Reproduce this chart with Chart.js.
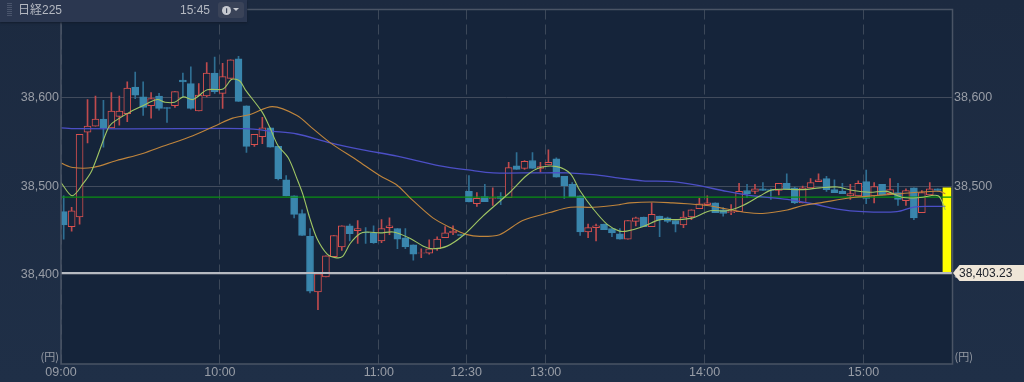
<!DOCTYPE html>
<html lang="ja">
<head>
<meta charset="utf-8">
<title>日経225</title>
<script src="https://cdn.jsdelivr.net/npm/chart.js@4/dist/chart.umd.min.js"></script>
<style>
  html, body { margin: 0; padding: 0; background: #1d2c43; overflow: hidden; }
  #wrap { position: relative; width: 1024px; height: 382px; background: linear-gradient(#1c2a40, #1f2f47); }
  canvas { position: absolute; left: 0; top: 0; }
  #head { position: absolute; left: 0; top: 0; width: 247px; height: 22px; background: #2b3750; box-shadow: 0 1px 2px #131c2c;
          color: #b4b8c1; font: 12px "Liberation Sans", "Noto Sans CJK JP", sans-serif; line-height: 20px; }
  #grip { position: absolute; left: 7px; top: 3px; width: 5px; height: 14px; background: repeating-linear-gradient(#4a556c 0 1px, #2b3750 1px 2px); }
  #name { position: absolute; left: 18px; top: 0; }
  #time { position: absolute; left: 180px; top: 0; }
  #btn { position: absolute; left: 218px; top: 2px; width: 26px; height: 16px; background: #3a4358; border-radius: 3px; color: #c6c9d0; font-size: 9px; line-height: 16px; }
  #btn i { position: absolute; left: 4px; top: 4px; width: 9px; height: 9px; border-radius: 50%; background: #c6c9d0; color: #3a4358; font: bold 8px/9px "Liberation Sans"; text-align: center; }
  #btn b { position: absolute; left: 15px; top: 6px; width: 0; height: 0; border: 3.5px solid transparent; border-top-color: #c6c9d0; }
</style>
</head>
<body>
<div id="wrap">
  <canvas id="chart" width="1024" height="382"></canvas>
  <div id="head">
    <span id="grip"></span>
    <span id="name">日経225</span>
    <span id="time">15:45</span>
    <span id="btn"><i>i</i><b></b></span>
  </div>
</div>
<script>
// 3 minute candles
const opens = [38471,38454,38465,38561,38568,38576,38566,38579,38582,38612,38601,38591,38602,38589,38591,38620,38616,38585,38602,38628,38605,38622,38644,38591,38547,38556,38566,38545,38507,38489,38469,38443,38380,38397,38420,38431,38455,38449.5,38448,38447,38438,38453,38452,38441.5,38433.5,38424,38424,38429,38441.5,38447,38445,38494,38480,38488,38486,38488,38487,38523,38520,38529,38520,38524,38531,38511,38502,38489,38448,38453,38457,38452,38446,38440,38460,38465,38454,38466,38464,38461,38456,38465,38474.4,38479,38481,38473,38470,38471,38495,38494,38497,38496,38495,38503,38498,38481,38498,38505,38508.5,38496,38494,38489,38489,38505,38489,38502,38491.5,38492.6,38483.5,38498,38470,38490,38497];
const closes = [38456,38472,38558.5,38568,38576,38566,38585,38585,38611,38603,38589,38599,38588,38588,38607,38618,38588,38603,38628,38607,38624,38643,38596,38545,38558.5,38566,38544,38508.5,38489,38468,38444,38381,38400.5,38421,38444,38455,38446,38452,38447,38436,38452,38455,38440,38431,38423,38424.5,38429,38440,38447,38449,38444,38482,38486,38482.4,38487,38486,38521,38519,38528,38520,38522,38527,38510,38500.6,38488,38448,38453,38455,38450.6,38447,38440,38461,38464,38454,38468,38462,38460,38457,38465,38473,38480,38481,38470,38469,38471,38494,38491.5,38497,38495,38495,38503,38497,38481,38498,38504,38507,38496,38492.6,38491.5,38491.5,38503,38486,38499.5,38490,38496,38485,38495,38464,38492.6,38497,38495];
const highs = [38489,38476,38558.5,38598,38602,38597,38606,38602,38618,38629,38618,38606,38605,38589,38607,38628,38635,38616,38640,38646,38639,38643,38647,38591,38558.5,38578,38566,38545,38512,38489,38473,38452,38400.5,38421,38444,38455,38457,38461,38453,38455,38462,38464,38452,38452,38433.5,38429,38439,38442.6,38454,38455,38445,38512,38492.6,38502,38498,38492.6,38527,38538,38529,38538,38527,38541,38532,38511,38504,38489,38457,38457,38457,38452,38452,38461,38465,38465,38481,38466,38465,38461,38471,38473,38486,38489,38481,38475.6,38479,38503,38502,38502,38504,38497,38503,38514,38499,38500,38508.5,38514,38511,38507,38503,38502,38506,38518,38504,38502,38508.5,38503,38497,38498,38495,38504,38497];
const lows = [38440,38449,38457,38549,38568,38544,38566,38569,38573,38599,38580,38577,38586,38572,38589,38601,38587,38585,38601,38605,38588,38622,38596,38538,38545,38548,38544,38507,38489,38464,38444,38379,38360,38397,38420,38427,38438,38435,38435,38435,38436,38445,38429,38429,38416,38419,38423,38427,38441.5,38445,38444,38482,38477,38482.4,38478,38479,38487,38519,38519,38520,38516,38524,38510,38486,38488,38444,38441.5,38438,38450.6,38442.6,38440,38440,38455,38454,38454,38442.6,38458.5,38448,38453,38462,38474.4,38479,38470,38466,38467.6,38471,38487,38491.5,38495,38485,38490,38497,38480,38481,38498,38505,38494,38492.6,38491.5,38485,38489,38480,38481,38490,38491.5,38478,38478,38462,38470,38490,38495];

// moving averages, sampled where the curve bends (x in candle slots from 09:00)
const shortX = [0,1.4,2.8,3.9,5.8,6.4,8.7,10.3,12.1,13.1,14.3,15.4,16.6,18.4,20.4,21.5,22.5,23.2,25.3,26.3,27.3,28.6,29.8,30.5,31.3,32.2,33.5,34.5,35.4,36.4,37.6,38.5,40.2,41.8,43.9,45.6,46.8,48.6,50.6,53.1,56.5,58.6,60.3,62.4,64.1,65.3,67,68.7,70.3,71.2,73.2,75.4,77.5,79.5,81.7,83.8,85.8,88,89.6,93.4,95.5,97.7,99.7,101.8,103.9,106,108.1,110.4,111.3];
const shortY = [38504,38489,38503,38518,38563,38571,38584,38591,38598,38595,38595,38601,38598,38609,38610,38621,38619,38609,38584,38566,38546,38532,38506,38489,38464,38441,38423,38419,38420,38435,38446,38448,38447,38448,38441,38432,38429,38432,38444,38466,38493,38512,38521,38522,38514,38495,38474,38457,38449,38449,38454,38462,38462,38464,38472,38472,38478,38489,38496,38496,38498,38499,38495,38493,38494,38487,38487,38489,38473];
const midX = [0,1.5,4,7,10.3,12.8,16.6,19.6,21.6,23.8,26.6,29.7,31.7,33.9,37.3,40.1,42.3,43.9,46.8,49,51.1,52.7,55.2,58.1,61.5,64.1,67,70.3,71.6,74.5,77,78.8,81.3,83.8,86.3,88.3,91.4,93.4,95.5,99.7,102.2,105.2,107.7,110.6,111.3];
const midY = [38526,38521,38521,38529,38537,38545,38557,38569,38577,38581,38590,38580,38565,38549,38529,38512,38501,38487,38464,38453,38445,38443,38445,38461,38470,38476,38476,38479,38481,38482,38481,38480,38478,38474,38470,38469,38473,38478,38481,38487,38489,38491,38493,38494,38491];
const longX = [0,1.8,15,23.2,26.7,29.7,33.9,38,42.3,47.7,51.5,54.4,59.9,63.7,67,70.3,73.2,77,80,83.8,87.1,91.4,94.6,97.7,100.9,105.2,107.2,109.4,111.3];
const longY = [38566,38565,38565,38565,38562,38559,38549,38541,38534,38523,38518,38515,38515,38515,38513,38509,38506,38505,38501,38494,38489,38485,38480,38474,38471,38471,38476,38477,38477];

const lastPrice = 38403.23;
const lastLevel = 38401.5; // where the white line actually sits in the picture
const prevLevel = 38487.5;
const yellowTop = 38498;
const yTicks = [38400, 38500, 38600];
const xTicks = [0, 20, 40, 51, 61, 81, 101];
const xLabels = ['09:00', '10:00', '11:00', '12:30', '13:00', '14:00', '15:00'];
const slotCount = 112.2;
const candleShift = 0.34;
const yellowSlot = 111.5;

const UP = '#d9514f', UP_WICK = '#bf4a4d', DOWN = '#3a86ad', DOWN_WICK = '#2f6f93';
const PLOT_BG = '#15243a', LINE = '#4a5465', TEXT = '#989da6';

const isUp = opens.map((o, i) => closes[i] >= o);
const slots = opens.map((o, i) => i + candleShift);
const toXY = (xs, ys) => xs.map((x, i) => ({ x: x, y: ys[i] }));

// fondo del area del grafico, borde, etiqueta de precio y (円)
const framePlugin = {
  id: 'frame',
  beforeDraw(chart) {
    const a = chart.chartArea, ctx = chart.ctx;
    ctx.fillStyle = PLOT_BG;
    ctx.fillRect(a.left, a.top, a.right - a.left, a.bottom - a.top);
  },
  afterDraw(chart) {
    const a = chart.chartArea, ctx = chart.ctx;
    ctx.save();
    ctx.strokeStyle = LINE;
    ctx.lineWidth = 1.5;
    ctx.strokeRect(a.left, a.top, a.right - a.left, a.bottom - a.top);

    ctx.font = '11px "Noto Sans CJK JP", sans-serif';
    ctx.fillStyle = TEXT;
    ctx.textBaseline = 'middle';
    ctx.textAlign = 'right';
    ctx.fillText('(円)', a.left - 2, a.bottom - 7);
    ctx.textAlign = 'left';
    ctx.fillText('(円)', a.right + 2, a.bottom - 7);

    const y = chart.scales.y.getPixelForValue(lastLevel);
    ctx.fillStyle = '#efe6d8';
    ctx.beginPath();
    ctx.moveTo(a.right + 0.5, y);
    ctx.lineTo(a.right + 7, y - 8);
    ctx.lineTo(1024, y - 8);
    ctx.lineTo(1024, y + 8);
    ctx.lineTo(a.right + 7, y + 8);
    ctx.closePath();
    ctx.fill();
    ctx.fillStyle = '#20242c';
    ctx.font = '12px "Liberation Sans", sans-serif';
    ctx.fillText(lastPrice.toLocaleString('en-US'), a.right + 6.5, y + 0.5);
    ctx.restore();
  }
};

const ctx = document.getElementById('chart').getContext('2d');

new Chart(ctx, {
  type: 'bar',
  plugins: [framePlugin],
  data: {
    datasets: [
      { type: 'line', data: toXY(shortX, shortY), borderColor: '#a0c664', borderWidth: 1.1, pointRadius: 0, tension: 0.3, order: 1 },
      { type: 'line', data: toXY(midX, midY), borderColor: '#c0853c', borderWidth: 1.1, pointRadius: 0, tension: 0.3, order: 2 },
      { type: 'line', data: toXY(longX, longY), borderColor: '#4c4fc6', borderWidth: 1.3, pointRadius: 0, tension: 0.3, order: 3 },
      { type: 'line', data: [{ x: 0, y: prevLevel }, { x: slotCount, y: prevLevel }], borderColor: '#0a8f12', borderWidth: 1.3, pointRadius: 0, order: 4 },
      { type: 'line', data: [{ x: 0, y: lastLevel }, { x: slotCount, y: lastLevel }], borderColor: '#b6bac1', borderWidth: 2, pointRadius: 0, order: 4 },
      { data: [{ x: yellowSlot, y: [lastLevel, yellowTop] }], backgroundColor: '#ffff00', barThickness: 8, grouped: false, order: 5 },
      {
        data: slots.map((x, i) => ({ x: x, y: [opens[i], closes[i]] })),
        backgroundColor: isUp.map(u => u ? PLOT_BG : DOWN),
        borderColor: isUp.map(u => u ? UP : DOWN),
        borderWidth: 1,
        borderSkipped: false,
        barThickness: 7,
        grouped: false,
        order: 6
      },
      {
        data: slots.map((x, i) => ({ x: x, y: [lows[i], highs[i]] })),
        backgroundColor: isUp.map(u => u ? UP_WICK : DOWN_WICK),
        barThickness: 1,
        grouped: false,
        order: 7
      }
    ]
  },
  options: {
    responsive: false,
    animation: false,
    layout: { padding: { top: 6.5 } },
    plugins: { legend: { display: false }, tooltip: { enabled: false } },
    scales: {
      x: {
        type: 'linear',
        min: 0,
        max: slotCount,
        offset: false,
        afterBuildTicks: scale => { scale.ticks = xTicks.map(v => ({ value: v })); },
        afterFit: scale => { scale.height = 18; },
        grid: { color: '#3c4859', drawTicks: false, offset: false },
        border: { display: false, dash: [10, 5] },
        ticks: {
          color: TEXT,
          font: { family: '"Liberation Sans"', size: 12.5 },
          padding: 1,
          maxRotation: 0,
          autoSkip: false,
          callback: value => xLabels[xTicks.indexOf(value)]
        }
      },
      y: {
        position: 'left',
        min: 38298.5,
        max: 38700,
        afterBuildTicks: scale => { scale.ticks = yTicks.map(v => ({ value: v })); },
        afterFit: scale => { scale.width = 61; },
        grid: { color: '#414b5c', drawTicks: false },
        border: { display: false },
        ticks: {
          color: TEXT,
          font: { family: '"Liberation Sans"', size: 12.5 },
          padding: 2,
          callback: value => value.toLocaleString('en-US')
        }
      },
      y2: {
        position: 'right',
        min: 38298.5,
        max: 38700,
        afterBuildTicks: scale => { scale.ticks = yTicks.map(v => ({ value: v })); },
        afterFit: scale => { scale.width = 71.5; },
        grid: { display: false, drawTicks: false },
        border: { display: false },
        ticks: {
          color: TEXT,
          font: { family: '"Liberation Sans"', size: 12.5 },
          padding: 1.5,
          callback: value => value.toLocaleString('en-US')
        }
      }
    }
  }
});
</script>
</body>
</html>
